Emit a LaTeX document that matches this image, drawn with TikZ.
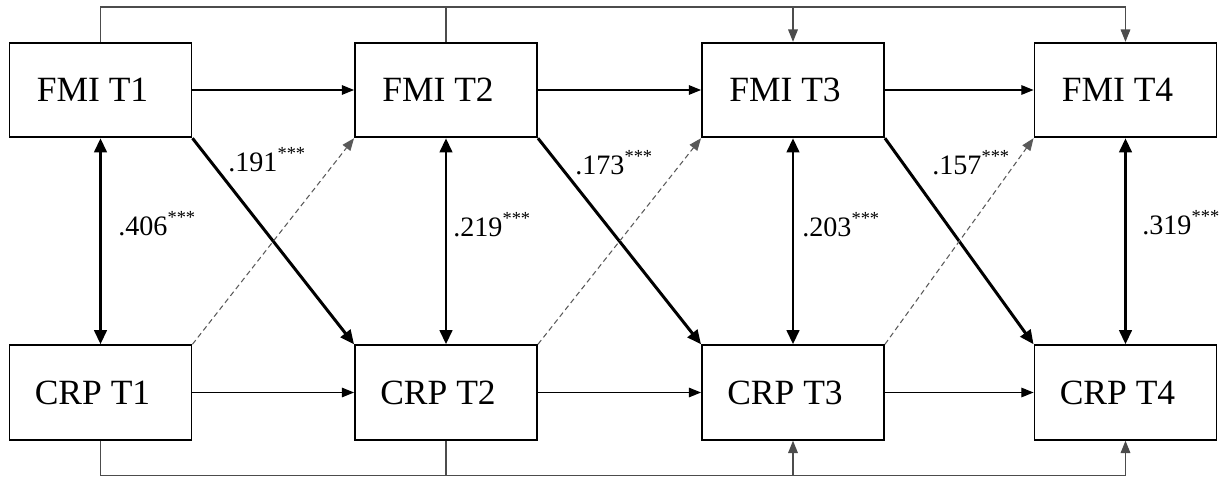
\documentclass[tikz,border=0pt]{standalone}
\usepackage{fontspec}
\setmainfont{Liberation Serif}
\usetikzlibrary{arrows.meta}

\newcommand{\sigstars}{\raisebox{0.42em}{\fontsize{10.5}{10.5}\selectfont ***}}

\tikzset{
  var/.style={draw, line width=1.1pt, minimum width=3.64cm, minimum height=1.89cm, inner sep=0pt,
    font=\fontsize{20.2}{22}\selectfont, execute at end node=\hspace{0.32cm}},
  coef/.style={anchor=base west, inner sep=0pt, font=\fontsize{16}{18}\selectfont},
  auto path/.style={->, line width=0.6pt},
  corr path/.style={<->, line width=1.7pt, >={Triangle[length=8pt,width=7pt]}},
  cross path/.style={->, line width=1.7pt, >={Triangle[length=8pt,width=7pt]}},
  cross dashed/.style={->, line width=0.6pt, gray!70!black, dash pattern=on 3pt off 2pt, >={Triangle[length=7pt,width=5.5pt]}},
  lag path/.style={line width=0.6pt, black!70}
}

\begin{document}
\begin{tikzpicture}[x=0.02cm, y=-0.02cm, >={Triangle[length=7pt,width=5.5pt]}]
  \useasboundingbox (0,0) rectangle (1225,477);

  % variables
  \node[var] (f1) at (100.5,90) {FMI T1};
  \node[var] (f2) at (446,90) {FMI T2};
  \node[var] (f3) at (793,90) {FMI T3};
  \node[var] (f4) at (1125.5,90) {FMI T4};
  \node[var] (c1) at (100.5,392.5) {CRP T1};
  \node[var] (c2) at (446,392.5) {CRP T2};
  \node[var] (c3) at (793,392.5) {CRP T3};
  \node[var] (c4) at (1125.5,392.5) {CRP T4};

  % lagged paths over and under
  \coordinate (topline) at (0,7);
  \coordinate (botline) at (0,475.5);
  \draw[lag path, ->] (f1.north) |- (f4.north |- topline) -- (f4.north);
  \draw[lag path] (f2.north) -- (f2.north |- topline);
  \draw[lag path, ->] (f3.north |- topline) -- (f3.north);
  \draw[lag path, ->] (c1.south) |- (c4.south |- botline) -- (c4.south);
  \draw[lag path] (c2.south) -- (c2.south |- botline);
  \draw[lag path, ->] (c3.south |- botline) -- (c3.south);

  % correlations
  \foreach \i in {1,...,4}
    \draw[corr path] (f\i) -- (c\i);

  % autoregressive and cross-lagged paths
  \foreach \a/\b in {1/2,2/3,3/4} {
    \draw[auto path] (f\a) -- (f\b);
    \draw[auto path] (c\a) -- (c\b);
    \draw[cross path] (f\a.south east) -- (c\b.north west);
    \draw[cross dashed] (c\a.north east) -- (f\b.south west);
  }

  % coefficients
  \node[coef] (r1) at (118,235) {.406\sigstars};
  \node[coef] (r2) at (453,236) {.219\sigstars};
  \node[coef] (r3) at (802,236) {.203\sigstars};
  \node[coef] (r4) at (1142,234) {.319\sigstars};
  \node[coef] (b1) at (228,171) {.191\sigstars};
  \node[coef] (b2) at (575,174) {.173\sigstars};
  \node[coef] (b3) at (932,174) {.157\sigstars};
\end{tikzpicture}
\end{document}
